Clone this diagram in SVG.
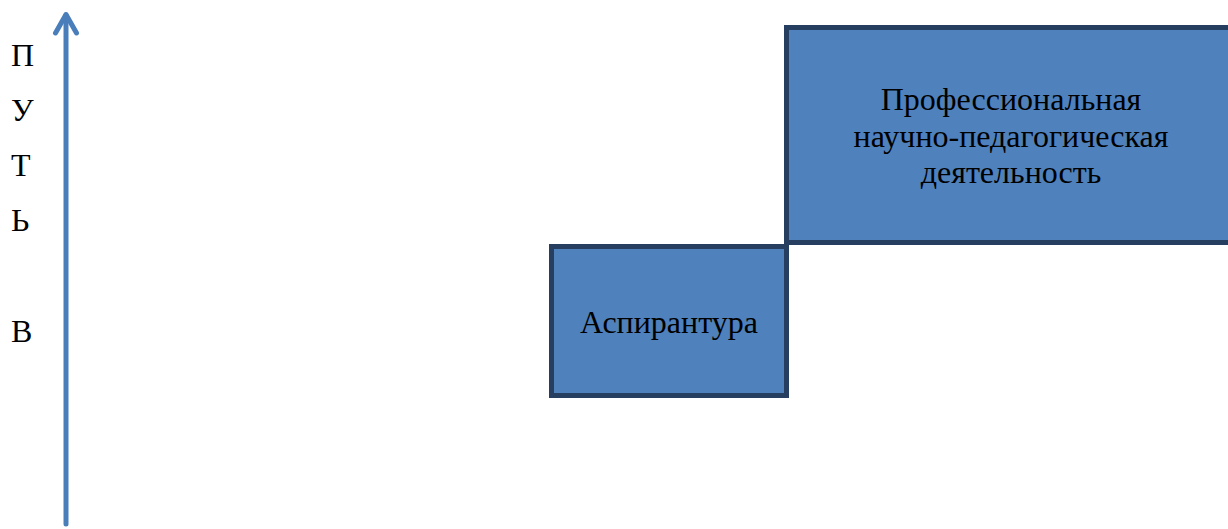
<svg xmlns="http://www.w3.org/2000/svg" width="1228" height="529" viewBox="0 0 1228 529">
<style>
.box{fill:#4F81BD;stroke:#263F61;stroke-width:5}
.t{font-family:"Liberation Serif","Times New Roman",serif;font-size:32px;fill:#000}
.c{text-anchor:middle}
.ax{stroke:#4A7EBB;stroke-width:5;fill:none;stroke-linecap:round;stroke-linejoin:round}
</style>
<rect width="1228" height="529" fill="#fff"/>
<g id="connectors">
<line class="ax" x1="66" y1="524" x2="66" y2="15"/>
<polyline class="ax" points="55.5,33 66,14.5 76.5,33"/>
</g>
<g id="axis-label">
<text class="t" x="11" y="66">П</text>
<text class="t" x="11" y="121">У</text>
<text class="t" x="11" y="176">Т</text>
<text class="t" x="11" y="231">Ь</text>
<text class="t" x="11" y="342">В</text>
</g>
<g id="node-prof">
<rect class="box" x="786.5" y="27.5" width="460" height="215"/>
<text class="t c" x="1011" y="110">Профессиональная</text>
<text class="t c" x="1011" y="147">научно-педагогическая</text>
<text class="t c" x="1011" y="183">деятельность</text>
</g>
<g id="node-asp">
<rect class="box" x="551.5" y="246.5" width="235" height="149"/>
<text class="t c" x="669" y="333">Аспирантура</text>
</g>
</svg>
